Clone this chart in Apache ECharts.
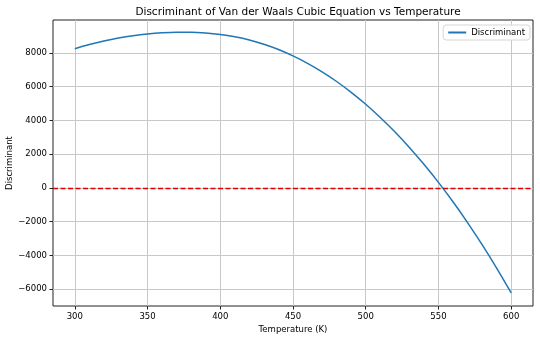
<!DOCTYPE html>
<html>
<head>
<meta charset="utf-8">
<script src="https://cdn.jsdelivr.net/npm/echarts@6/dist/echarts.min.js"></script>
<style>html,body{margin:0;padding:0;background:#fff}#c{width:540px;height:339px}</style>
</head>
<body>
<div id="c"></div>
<script>
const temperatures = [300,310,320,330,340,350,360,370,380,390,400,410,420,430,440,450,460,470,480,490,500,510,520,530,540,550,560,570,580,590,600];
const discriminant = [8250,8495,8705,8880,9020,9125,9195,9230,9230,9185,9095,8955,8765,8510,8200,7820,7380,6875,6305,5665,4955,4175,3325,2395,1395,325,-825,-2055,-3365,-4755,-6225];
const xTicks = [300,350,400,450,500,550,600];
const yTicks = [-6000,-4000,-2000,0,2000,4000,6000,8000];
const refLevel = 0;

const font = 'DejaVu Sans';
const chart = echarts.init(document.getElementById('c'), null, {renderer:'canvas'});
chart.setOption({
  animation:false,
  backgroundColor:'#fff',
  title:{text:'Discriminant of Van der Waals Cubic Equation vs Temperature',left:293,textAlign:'center',top:2,
    textStyle:{fontFamily:font,fontSize:10.5,fontWeight:'normal',color:'#000'}},
  grid:{left:53,right:7,top:20,bottom:33,containLabel:false,outerBoundsMode:'none',
    show:true,borderColor:'#222',borderWidth:1,backgroundColor:'transparent'},
  legend:{right:10,top:25,orient:'vertical',padding:[3,5,3,5],itemWidth:18,itemHeight:2,itemGap:4,
    backgroundColor:'#fff',borderColor:'#d6d6d6',borderWidth:1,borderRadius:3,
    textStyle:{fontFamily:font,fontSize:8.5,color:'#000'},
    data:[{name:'Discriminant',icon:'rect',itemStyle:{color:'#1f77b4'}}]},
  xAxis:{type:'value',min:285,max:615,
    name:'Temperature (K)',nameLocation:'middle',nameGap:19,nameMoveOverlap:false,nameTextStyle:{fontFamily:font,fontSize:8.5,color:'#000'},
    axisLine:{show:false,onZero:false},
    axisTick:{show:true,customValues:xTicks,length:3.5,lineStyle:{color:'#222'}},
    axisLabel:{customValues:xTicks,fontFamily:font,fontSize:8.5,color:'#000',margin:6},
    splitLine:{show:true,lineStyle:{color:'#c8c8c8',width:1}}},
  yAxis:{type:'value',min:-7000,max:9950,
    name:'Discriminant',nameLocation:'middle',nameGap:39,nameMoveOverlap:false,nameRotate:90,nameTextStyle:{fontFamily:font,fontSize:8.5,color:'#000'},
    axisLine:{show:false,onZero:false},
    axisTick:{show:true,customValues:yTicks,length:3.5,lineStyle:{color:'#222'}},
    axisLabel:{customValues:yTicks,fontFamily:font,fontSize:8.5,color:'#000',margin:6,
      formatter:v=>v<0?'\u2212'+Math.abs(v):String(v)},
    splitLine:{show:true,lineStyle:{color:'#c8c8c8',width:1}}},
  series:[{
    name:'Discriminant',type:'line',symbol:'none',smooth:0.3,
    data:temperatures.map((t,i)=>[t,discriminant[i]]),
    lineStyle:{color:'#1f77b4',width:1.5},itemStyle:{color:'#1f77b4'},
    markLine:{silent:true,symbol:'none',label:{show:false},
      lineStyle:{color:'#e00000',type:[5,2.5],width:1.3},
      data:[{yAxis:refLevel}]}
  }]
});
</script>
</body>
</html>
